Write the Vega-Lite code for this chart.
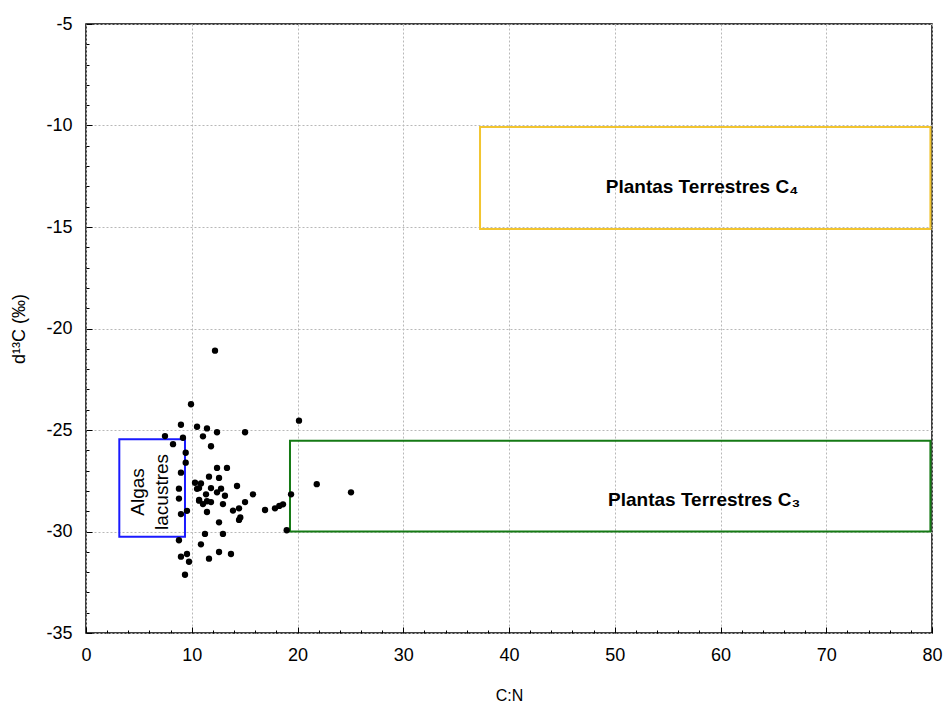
{
  "$schema": "https://vega.github.io/schema/vega-lite/v6.json",
  "autosize": {"type": "none"},
  "padding": {"left": 86, "top": 24, "right": 11, "bottom": 69},
  "width": 846,
  "height": 609,
  "background": "white",
  "config": {
    "view": {"stroke": "black", "strokeWidth": 1.5},
    "font": "Liberation Sans",
    "axis": {
      "labelFont": "Liberation Sans",
      "titleFont": "Liberation Sans",
      "labelColor": "black",
      "titleColor": "black",
      "titleFontWeight": "normal",
      "domainColor": "black",
      "tickColor": "black",
      "gridColor": "#b8b8b8",
      "gridDash": [2, 2],
      "gridWidth": 1
    }
  },
  "datasets": {
    "points": [
      {"cn": 12.2, "d13c": -21.09},
      {"cn": 9.93, "d13c": -23.73},
      {"cn": 8.98, "d13c": -24.74},
      {"cn": 10.5, "d13c": -24.84},
      {"cn": 11.44, "d13c": -24.92},
      {"cn": 12.39, "d13c": -25.11},
      {"cn": 15.04, "d13c": -25.11},
      {"cn": 7.47, "d13c": -25.3},
      {"cn": 9.17, "d13c": -25.38},
      {"cn": 11.06, "d13c": -25.31},
      {"cn": 8.23, "d13c": -25.7},
      {"cn": 11.82, "d13c": -25.8},
      {"cn": 9.43, "d13c": -26.12},
      {"cn": 9.43, "d13c": -26.61},
      {"cn": 8.98, "d13c": -27.1},
      {"cn": 12.39, "d13c": -26.87},
      {"cn": 13.33, "d13c": -26.87},
      {"cn": 11.63, "d13c": -27.3},
      {"cn": 12.58, "d13c": -27.36},
      {"cn": 10.31, "d13c": -27.6},
      {"cn": 10.87, "d13c": -27.63},
      {"cn": 8.79, "d13c": -27.89},
      {"cn": 10.69, "d13c": -27.86},
      {"cn": 11.82, "d13c": -27.86},
      {"cn": 12.77, "d13c": -27.89},
      {"cn": 14.28, "d13c": -27.76},
      {"cn": 12.39, "d13c": -28.07},
      {"cn": 13.14, "d13c": -28.24},
      {"cn": 11.35, "d13c": -28.17},
      {"cn": 8.79, "d13c": -28.38},
      {"cn": 10.69, "d13c": -28.48},
      {"cn": 11.44, "d13c": -28.51},
      {"cn": 11.82, "d13c": -28.55},
      {"cn": 11.06, "d13c": -28.65},
      {"cn": 12.95, "d13c": -28.65},
      {"cn": 15.04, "d13c": -28.55},
      {"cn": 14.47, "d13c": -28.86},
      {"cn": 13.9, "d13c": -28.97},
      {"cn": 9.55, "d13c": -28.98},
      {"cn": 8.98, "d13c": -29.14},
      {"cn": 11.44, "d13c": -29.04},
      {"cn": 14.47, "d13c": -29.43},
      {"cn": 12.58, "d13c": -29.55},
      {"cn": 11.25, "d13c": -30.12},
      {"cn": 12.95, "d13c": -30.12},
      {"cn": 8.79, "d13c": -30.43},
      {"cn": 10.87, "d13c": -30.63},
      {"cn": 12.58, "d13c": -31.01},
      {"cn": 13.71, "d13c": -31.11},
      {"cn": 9.55, "d13c": -31.11},
      {"cn": 8.98, "d13c": -31.24},
      {"cn": 11.63, "d13c": -31.34},
      {"cn": 9.74, "d13c": -31.49},
      {"cn": 9.36, "d13c": -32.13},
      {"cn": 20.14, "d13c": -24.54},
      {"cn": 14.59, "d13c": -29.31},
      {"cn": 15.79, "d13c": -28.17},
      {"cn": 16.93, "d13c": -28.94},
      {"cn": 17.87, "d13c": -28.86},
      {"cn": 18.28, "d13c": -28.74},
      {"cn": 18.63, "d13c": -28.66},
      {"cn": 19.39, "d13c": -28.17},
      {"cn": 21.82, "d13c": -27.67},
      {"cn": 25.06, "d13c": -28.07},
      {"cn": 18.98, "d13c": -29.94},
      {"cn": 10.5, "d13c": -27.9},
      {"cn": 10.7, "d13c": -28.45}
    ],
    "boxes": [
      {"group": "Algas lacustres", "x0": 3.15, "x1": 9.36, "y0": -25.46, "y1": -30.26},
      {"group": "Plantas Terrestres C3", "x0": 19.29, "x1": 79.85, "y0": -25.53, "y1": -30.0},
      {"group": "Plantas Terrestres C4", "x0": 37.26, "x1": 79.85, "y0": -10.07, "y1": -15.1}
    ],
    "labels": [
      {"label": "Plantas Terrestres C₄", "x": 58.25, "y": -13.05},
      {"label": "Plantas Terrestres C₃", "x": 58.45, "y": -28.45}
    ],
    "algas": [
      {"label": "Algas\nlacustres", "x": 4.92, "y": -28.05}
    ]
  },
  "layer": [
    {
      "data": {"name": "boxes"},
      "mark": {"type": "rect", "fill": null, "fillOpacity": 0, "strokeWidth": 2},
      "encoding": {
        "x": {
          "field": "x0", "type": "quantitative",
          "scale": {"domain": [0, 80], "nice": false, "zero": false},
          "axis": {
            "title": "C:N",
            "values": [0,2,4,6,8,10,12,14,16,18,20,22,24,26,28,30,32,34,36,38,40,42,44,46,48,50,52,54,56,58,60,62,64,66,68,70,72,74,76,78,80],
            "tickCount": 200,
            "format": "d",
            "labelExpr": "datum.value % 10 === 0 ? datum.label : ''",
            "labelOverlap": false,
            "labelFlush": false,
            "labelFontSize": 18,
            "titleFontSize": 16,
            "tickSize": {"condition": {"test": "datum.value % 10 === 0", "value": -6}, "value": -3},
            "gridOpacity": {"condition": {"test": "datum.value % 10 === 0", "value": 1}, "value": 0},
            "labelPadding": 19,
            "titlePadding": 20,
            "domain": false
          }
        },
        "x2": {"field": "x1"},
        "y": {
          "field": "y0", "type": "quantitative",
          "scale": {"domain": [-35, -5], "nice": false, "zero": false},
          "axis": {
            "title": "d¹³C (‰)",
            "values": [-35,-34,-33,-32,-31,-30,-29,-28,-27,-26,-25,-24,-23,-22,-21,-20,-19,-18,-17,-16,-15,-14,-13,-12,-11,-10,-9,-8,-7,-6,-5],
            "tickCount": 200,
            "format": "d",
            "labelExpr": "datum.value % 5 === 0 ? replace(datum.label, '−', '-') : ''",
            "labelOverlap": false,
            "labelFlush": false,
            "labelFontSize": 18,
            "titleFontSize": 18,
            "tickSize": {"condition": {"test": "datum.value % 5 === 0", "value": -6}, "value": -3},
            "gridOpacity": {"condition": {"test": "datum.value % 5 === 0", "value": 1}, "value": 0},
            "labelPadding": 20,
            "titlePadding": 17,
            "domain": false
          }
        },
        "y2": {"field": "y1"},
        "stroke": {
          "field": "group", "type": "nominal",
          "scale": {"domain": ["Algas lacustres", "Plantas Terrestres C3", "Plantas Terrestres C4"], "range": ["#1a1aff", "#157a15", "#f2c530"]},
          "legend": null
        }
      }
    },
    {
      "data": {"name": "points"},
      "mark": {"type": "circle", "color": "black", "opacity": 1, "size": 40},
      "encoding": {
        "x": {"field": "cn", "type": "quantitative"},
        "y": {"field": "d13c", "type": "quantitative"}
      }
    },
    {
      "data": {"name": "labels"},
      "mark": {"type": "text", "font": "Liberation Sans", "fontSize": 19, "fontWeight": "bold", "color": "black", "align": "center", "baseline": "middle"},
      "encoding": {
        "x": {"field": "x", "type": "quantitative"},
        "y": {"field": "y", "type": "quantitative"},
        "text": {"field": "label"}
      }
    },
    {
      "data": {"name": "algas"},
      "mark": {"type": "text", "font": "Liberation Sans", "fontSize": 19, "lineHeight": 24, "lineBreak": "\n", "angle": 270, "color": "black", "align": "center", "baseline": "middle"},
      "encoding": {
        "x": {"field": "x", "type": "quantitative"},
        "y": {"field": "y", "type": "quantitative"},
        "text": {"field": "label"}
      }
    }
  ]
}
